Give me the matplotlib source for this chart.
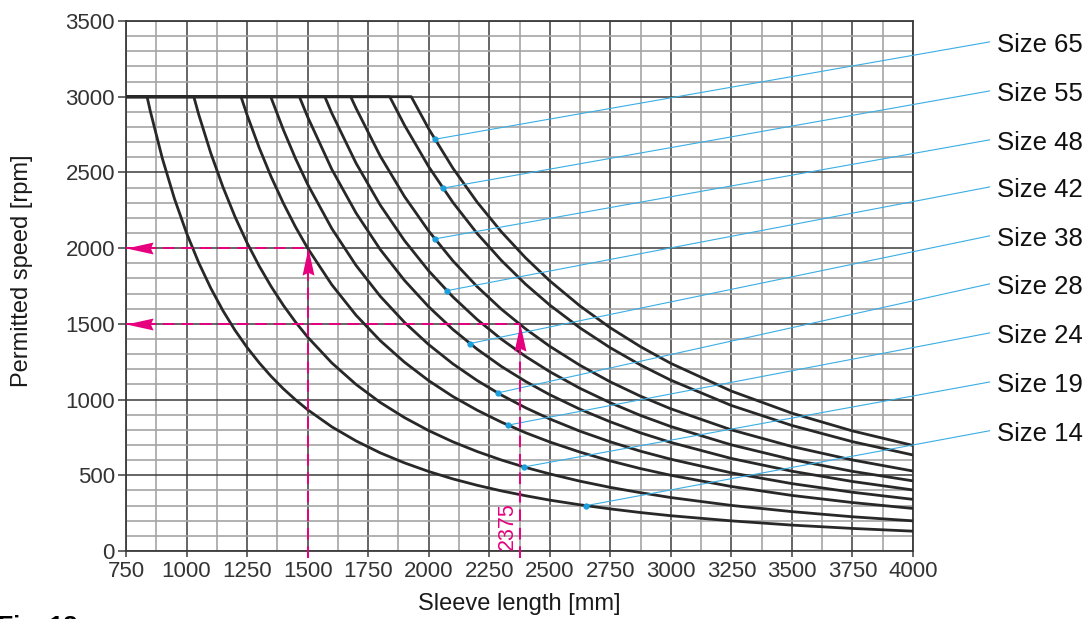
import matplotlib.pyplot as plt
from matplotlib.ticker import MultipleLocator

plt.rcParams['font.family'] = ['Liberation Sans', 'DejaVu Sans']

lengths = [750, 800, 850, 900, 950, 1000, 1050, 1100, 1150, 1200, 1250, 1300,
           1350, 1400, 1450, 1500, 1600, 1700, 1800, 1900, 2000, 2100, 2200,
           2300, 2400, 2500, 2625, 2750, 2875, 3000, 3250, 3500, 3750, 4000]

sizes = ['Size 14', 'Size 19', 'Size 24', 'Size 28', 'Size 38',
         'Size 42', 'Size 48', 'Size 55', 'Size 65']

# length where each curve leaves the 3000 rpm limit
knee_len = [837, 1030, 1225, 1348, 1466, 1571, 1678, 1839, 1928]

# permitted speed [rpm]
speed_14 = [3000, 3000, 2907, 2593, 2327, 2100, 1905, 1736, 1588, 1458, 1344, 1243,
            1152, 1071, 999, 933, 820, 727, 648, 582, 525, 476, 434,
            397, 365, 336, 305, 278, 254, 233, 199, 171, 149, 131]
speed_19 = [3000] * 6 + [2884, 2628, 2405, 2208, 2035, 1882,
            1745, 1622, 1512, 1413, 1242, 1100, 981, 881, 795, 721, 657,
            601, 552, 509, 461, 420, 385, 353, 301, 260, 226, 199]
speed_24 = [3000] * 10 + [2880, 2663,
            2469, 2296, 2140, 2000, 1758, 1557, 1389, 1247, 1125, 1020, 930,
            851, 781, 720, 653, 595, 544, 500, 426, 367, 320, 281]
speed_28 = [3000] * 12 + [
            2990, 2781, 2592, 2422, 2129, 1886, 1682, 1510, 1363, 1236, 1126,
            1030, 946, 872, 791, 721, 659, 606, 516, 445, 388, 341]
speed_38 = [3000] * 15 + [2867, 2520, 2232, 1991, 1787, 1613, 1463, 1333,
            1219, 1120, 1032, 936, 853, 780, 717, 611, 527, 459, 403]
speed_42 = [3000] * 16 + [2891, 2561, 2284, 2050, 1850, 1678, 1529,
            1399, 1285, 1184, 1074, 979, 895, 822, 701, 604, 526, 463]
speed_48 = [3000] * 17 + [2924, 2608, 2341, 2113, 1916, 1746,
            1597, 1467, 1352, 1226, 1117, 1022, 939, 800, 690, 601, 528]
speed_55 = [3000] * 19 + [2812, 2538, 2302, 2097,
            1919, 1762, 1624, 1473, 1342, 1228, 1128, 961, 829, 722, 634]
speed_65 = [3000] * 20 + [2788, 2528, 2304,
            2108, 1936, 1784, 1618, 1474, 1349, 1239, 1056, 910, 793, 697]
speeds = [speed_14, speed_19, speed_24, speed_28, speed_38,
          speed_42, speed_48, speed_55, speed_65]

# callout dots on the curves and the speed level where each leader ends
dot_len = [2648, 2393, 2327, 2285, 2170, 2075, 2025, 2058, 2025]
dot_speed = [299, 555, 831, 1044, 1370, 1719, 2061, 2396, 2719]
label_speed = [794, 1116, 1440, 1764, 2081, 2404, 2715, 3038, 3362]
label_len = 4316

# worked examples (magenta)
ex_len = [1500, 2375]
ex_speed = [2000, 1500]

fig = plt.figure(figsize=(10.89, 6.19), dpi=100)
ax = fig.add_axes([126 / 1089, 1 - 551 / 619, 787 / 1089, 530 / 619])

ax.set_xlim(750, 4000)
ax.set_ylim(0, 3500)
ax.xaxis.set_major_locator(MultipleLocator(250))
ax.xaxis.set_minor_locator(MultipleLocator(125))
ax.yaxis.set_major_locator(MultipleLocator(500))
ax.yaxis.set_minor_locator(MultipleLocator(100))
ax.grid(which='minor', color='#a4a4a4', lw=1.2)
ax.grid(which='major', color='#3c3c3c', lw=1.1)
ax.set_axisbelow(True)
ax.tick_params(which='minor', length=0)
ax.tick_params(axis='x', which='major', length=4.5, width=1.1, color='#3c3c3c',
               labelsize=16, labelcolor='#333333', pad=3)
ax.tick_params(axis='y', which='major', length=6, width=1.1, color='#3c3c3c',
               labelsize=16, labelcolor='#333333', pad=2)
for s in ax.spines.values():
    s.set_color('#3c3c3c')
    s.set_linewidth(1.3)

for knee, sp in zip(knee_len, speeds):
    pts = sorted(list(zip(lengths, sp)) + [(knee, 3000)])
    xs, ys = zip(*pts)
    ax.plot(xs, ys, color='#282828', lw=2.0, solid_joinstyle='round', zorder=3)

for name, dl, ds, ls in zip(sizes, dot_len, dot_speed, label_speed):
    ax.plot([dl, label_len], [ds, ls], color='#3aaee4', lw=0.8, clip_on=False, zorder=4)
    ax.plot(dl, ds, 'o', ms=3.5, color='#1c9fdc', zorder=5)
    ax.text(label_len + 30, ls - 20, name, fontsize=18.5, color='#111111',
            ha='left', va='center')

mag = '#e6007e'
left_head = [(0, 0), (1, 0.22), (0.9, 0), (1, -0.22), (0, 0)]
up_head = [(0, 0), (0.22, -1), (0, -0.9), (-0.22, -1), (0, 0)]
for L, n in zip(ex_len, ex_speed):
    ax.plot([750, L], [n, n], color=mag, lw=1.4, ls=(0, (6, 3.5)), zorder=6)
    ax.plot([L, L], [-45, n], color=mag, lw=1.4, ls=(0, (6, 3.5)),
            clip_on=False, zorder=6)
    ax.plot(750, n, marker=left_head, ms=39, color=mag, mew=0,
            clip_on=False, zorder=7)
    ax.plot(L, n, marker=up_head, ms=39, color=mag, mew=0, zorder=7)
ax.text(2325, 8, '2375', rotation=90, color=mag, fontsize=15.5,
        ha='center', va='bottom')

fig.text(22 / 1089, 1 - 271 / 619, 'Permitted speed [rpm]', rotation=90,
         fontsize=17, color='#1a1a1a', ha='center', va='center')
fig.text(519.5 / 1089, 1 - 604 / 619, 'Sleeve length [mm]',
         fontsize=17, color='#1a1a1a', ha='center', va='center')
fig.text(-0.002, 1 - 615 / 619, 'Fig. 18', fontsize=18, fontweight='bold',
         ha='left', va='top')

fig.savefig('out.png', dpi=100)
